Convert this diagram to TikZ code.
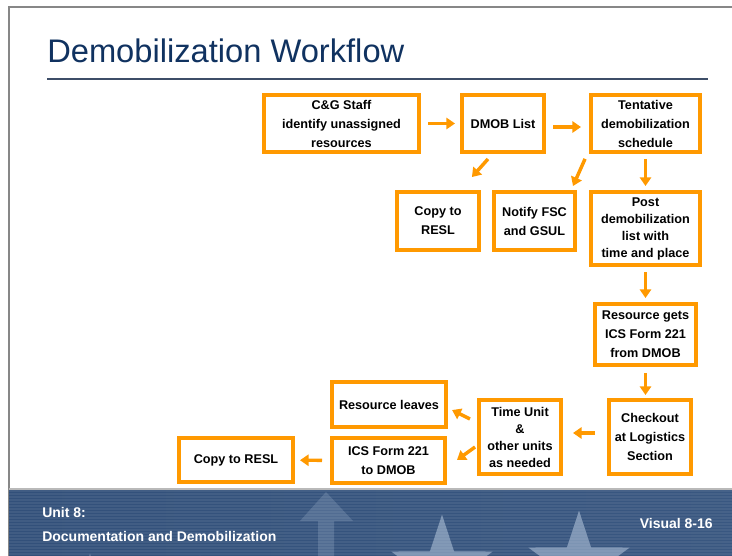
\documentclass[tikz,border=0pt]{standalone}
\usepackage{fontspec}
\setmainfont{Liberation Sans}
\usepackage{xcolor}
\usepackage{tikz}
\usetikzlibrary{arrows.meta, calc, shapes.geometric}

\definecolor{dmorange}{RGB}{255,153,0}
\definecolor{titleblue}{RGB}{16,50,96}
\definecolor{rulegray}{RGB}{62,78,104}
\definecolor{framegray}{RGB}{135,135,135}
\definecolor{footdark}{RGB}{50,80,122}
\definecolor{footlight}{RGB}{96,126,166}
\definecolor{starblue}{RGB}{182,200,222}

\begin{document}
\begin{tikzpicture}[x=0.75pt, y=-0.75pt,
%
    stepbox/.style={draw=dmorange, line width=3pt, fill=white, align=center, inner sep=0pt,
        font=\fontsize{9.5}{14.25}\selectfont\bfseries},
    tightbox/.style={stepbox, font=\fontsize{9.5}{12.75}\selectfont\bfseries},
    Arr/.style={-{Triangle[length=6.5pt,width=8.5pt]}, dmorange, line width=2.6pt},
    bgstar/.style={star, star points=5, star point ratio=2.6, fill=starblue, opacity=0.55, inner sep=0pt},
    foot/.style={anchor=base west, inner sep=0pt, text=white, font=\fontsize{10.5}{12}\selectfont\bfseries},
                        ]
    \useasboundingbox (0,0) rectangle (732,556);

    % slide frame and heading
    \draw[framegray, line width=1.5pt] (9,556) -- (9,7) -- (732,7);
    \node[anchor=base west, inner sep=0pt, text=titleblue, font=\fontsize{24.5}{28}\selectfont] (title_node) at (47,63) {Demobilization Workflow};
    \draw[rulegray, line width=2pt] (47,79) -- (708,79);

    % footer band
    \begin{scope}
        \clip (9,489) rectangle (732,556);
        \shade[left color=footdark, middle color=footlight, right color=footdark!85!footlight] (9,489) rectangle (732,556);
        \foreach \y in {491,494,...,556}
            \draw[white, opacity=0.07, line width=0.9pt] (9,\y) -- (732,\y);
        \node[bgstar, minimum size=80pt] at (442,568) {};
        \node[bgstar, minimum size=80pt] at (579,564) {};
        \node[bgstar, minimum size=80pt] at (745,576) {};
        \node[bgstar, minimum size=55pt, opacity=0.3] at (90,590) {};
        \node[bgstar, minimum size=55pt, opacity=0.3] at (200,592) {};
        \fill[starblue, opacity=0.22] (300,521) -- (326,492) -- (353,521) -- (334,521) -- (334,556) -- (318,556) -- (318,521) -- cycle;
    \end{scope}
    \draw[gray!55, line width=1pt] (9,489) -- (732,489);
    \node[foot] (unit_node) at (42,517) {Unit 8:};
    \node[foot] (course_node) at (42,541) {Documentation and Demobilization};
    \node[foot, anchor=base east] (visual_node) at (713,528) {Visual 8-16};

    % workflow boxes
    \node[stepbox, minimum width=116.25pt, minimum height=42.75pt] (cgs_node) at (341.5,123.5) {C\&G Staff\\identify unassigned\\resources};
    \node[stepbox, minimum width=61.5pt, minimum height=42.75pt] (dmob_node) at (503,123.5) {DMOB List};
    \node[stepbox, minimum width=81.75pt, minimum height=42.75pt] (tent_node) at (645.5,123.5) {Tentative\\demobilization\\schedule};
    \node[stepbox, minimum width=61.5pt, minimum height=43.5pt] (copya_node) at (438,221) {Copy to\\RESL};
    \node[stepbox, minimum width=60.75pt, minimum height=43.5pt] (notify_node) at (534.5,221) {Notify FSC\\and GSUL};
    \node[tightbox, minimum width=81.75pt, minimum height=54.75pt] (post_node) at (645.5,228.5) {Post\\demobilization\\list with\\time and place};
    \node[stepbox, minimum width=75.75pt, minimum height=45.75pt] (getform_node) at (645.5,334.5) {Resource gets\\ICS Form 221\\from DMOB};
    \node[stepbox, minimum width=61.5pt, minimum height=55.5pt] (checkout_node) at (650,437) {Checkout\\at Logistics\\Section};
    \node[tightbox, minimum width=61.5pt, minimum height=55.5pt] (timeunit_node) at (520,437) {Time Unit\\\&\\other units\\as needed};
    \node[stepbox, minimum width=85.5pt, minimum height=33.75pt] (leaves_node) at (389,404.5) {Resource leaves};
    \node[stepbox, minimum width=84.75pt, minimum height=33.75pt] (icsform_node) at (388.5,460.5) {ICS Form 221\\to DMOB};
    \node[stepbox, minimum width=85.5pt, minimum height=33pt] (copyb_node) at (236,460) {Copy to RESL};

    % connectors
    \draw[Arr, shorten <=5.25pt, shorten >=3.75pt] (cgs_node) -- (dmob_node);
    \draw[Arr, shorten <=5.25pt, shorten >=6pt] ($(dmob_node.east)+(0,3.5)$) -- ($(tent_node.west)+(0,3.5)$);
    \draw[Arr, shorten <=5pt, shorten >=13pt] ($(dmob_node.south)+(-10.6,0)$) -- ($(copya_node.north)+(22.4,0)$);
    \draw[Arr, shorten <=4pt, shorten >=3.3pt] ($(tent_node.south west)+(-1.8,0)$) -- ($(notify_node.north east)+(-5.8,0)$);
    \draw[Arr, shorten <=3.75pt, shorten >=3pt] (tent_node) -- (post_node);
    \draw[Arr, shorten <=3.75pt, shorten >=3pt] (post_node) -- (getform_node);
    \draw[Arr, shorten <=4.5pt, shorten >=2.25pt] (getform_node.south) -- (getform_node.south |- checkout_node.north);
    \draw[Arr, shorten <=9pt, shorten >=7.5pt] ($(checkout_node.west)+(0,-4)$) -- ($(timeunit_node.east)+(0,-4)$);
    \draw[Arr, shorten <=5.9pt, shorten >=3.4pt] ($(timeunit_node.west)+(0,-14.5)$) -- ($(leaves_node.east)+(0,3.5)$);
    \draw[Arr, shorten <=1.8pt, shorten >=9.2pt] ($(timeunit_node.west)+(0,8.6)$) -- ($(icsform_node.east)+(0,6.7)$);
    \draw[Arr, shorten <=6pt, shorten >=3.75pt] (icsform_node) -- (copyb_node);

\end{tikzpicture}
\end{document}
